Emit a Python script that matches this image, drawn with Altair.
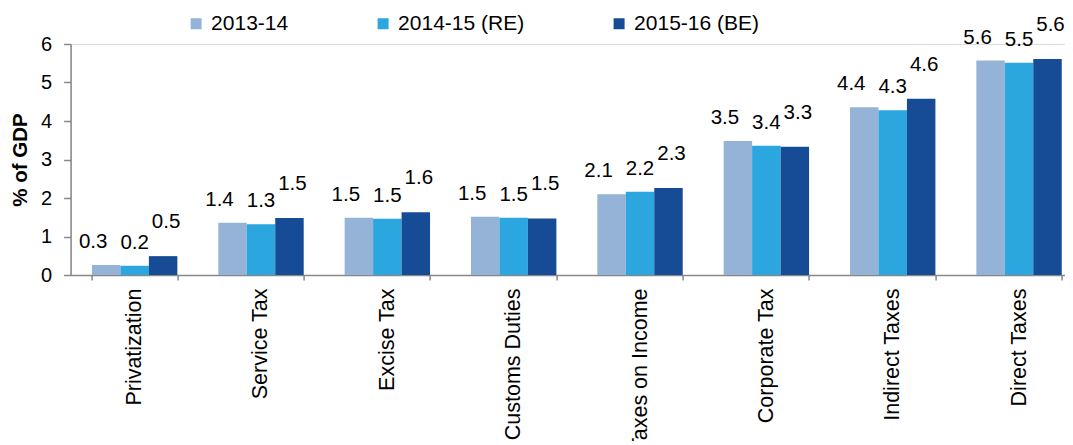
import altair as alt
import pandas as pd

categories = ["Privatization", "Service Tax", "Excise Tax", "Customs Duties",
              "Taxes on Income", "Corporate Tax", "Indirect Taxes", "Direct Taxes"]
series = ["2013-14", "2014-15 (RE)", "2015-16 (BE)"]
v2013 = [0.26, 1.36, 1.49, 1.51, 2.10, 3.48, 4.36, 5.57]
v2014 = [0.24, 1.32, 1.46, 1.49, 2.16, 3.36, 4.28, 5.51]
v2015 = [0.49, 1.48, 1.63, 1.47, 2.26, 3.33, 4.58, 5.61]
colors = ["#95B3D7", "#2BA6DE", "#164B96"]
y_ticks = [0, 1, 2, 3, 4, 5, 6]

rows = []
for s, vals in zip(series, [v2013, v2014, v2015]):
    for c, v in zip(categories, vals):
        rows.append({"cat": c, "series": s, "value": v})
df = pd.DataFrame(rows)

FONT = "Liberation Sans"
GREY = "#888888"

base = alt.Chart(df).encode(
    x=alt.X("cat:N", sort=categories,
            scale=alt.Scale(domain=categories, paddingInner=0.324, paddingOuter=0.169,
                            range=[0, 1012.5]),
            axis=alt.Axis(title=None, labelAngle=270, labelFontSize=21.5, labelColor="#000000",
                          labelFont=FONT, tickSize=5, tickColor=GREY, domainColor=GREY,
                          domainWidth=1.5, tickWidth=1.5, labelPadding=8, tickBand="extent",
                          grid=False, labelOverlap=False)),
    xOffset=alt.XOffset("series:N", sort=series, scale=alt.Scale(domain=series)),
    y=alt.Y("value:Q", scale=alt.Scale(domain=[0, 6], nice=False),
            axis=alt.Axis(values=y_ticks, tickSize=7, tickColor=GREY, tickWidth=1.5,
                          domainColor=GREY, domainWidth=1.5, labelPadding=12,
                          labelFontSize=20, labelColor="#000000", labelFont=FONT,
                          title="% of GDP", titleFont=FONT, titleFontSize=20.5,
                          titleFontWeight="bold", titleColor="#000000",
                          titleX=-40, titleY=115.5, grid=False)),
)

bars = base.mark_bar().encode(
    color=alt.Color("series:N", sort=series,
                    scale=alt.Scale(domain=series, range=colors),
                    legend=alt.Legend(title=None, orient="none", legendX=115, legendY=-31,
                                      direction="horizontal", symbolType="square",
                                      symbolSize=121, symbolStrokeWidth=0,
                                      labelFontSize=21, labelFont=FONT, labelColor="#000000",
                                      labelOffset=4.5, columnPadding=84, padding=0))
)

def labels(idx, dx, dy):
    return base.mark_text(dx=dx, dy=dy, baseline="alphabetic", fontSize=20.5, font=FONT,
                          color="#000000").encode(
        text=alt.Text("value:Q", format=".1f")
    ).transform_filter(alt.datum.series == series[idx])

chart = alt.layer(
    bars, labels(0, -13, -17), labels(1, 0, -17), labels(2, 3, -28)
).properties(
    width=994.4, height=231,
    autosize=alt.AutoSizeParams(type="none"),
    padding={"left": 62.6, "top": 36, "right": 0, "bottom": 166},
).configure_view(stroke=None).configure(background="white")

chart.save("out.html", embed_options={"renderer": "svg", "actions": False})
